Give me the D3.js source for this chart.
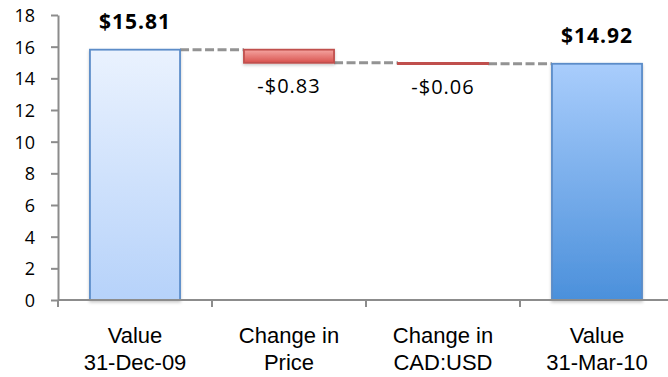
<!DOCTYPE html>
<html>
<head>
<meta charset="utf-8">
<script src="https://cdn.jsdelivr.net/npm/d3@7"></script>
<style>
  body { margin: 0; background: #fff; }
  svg { display: block; }
</style>
</head>
<body>
<div id="chart"></div>
<script>
// waterfall data
const categories = ["start", "price", "fx", "end"];
const catLines = [["Value", "31-Dec-09"], ["Change in", "Price"], ["Change in", "CAD:USD"], ["Value", "31-Mar-10"]];
const kinds = ["total", "delta", "delta", "total"];
const values = [15.81, -0.83, -0.06, 14.92];
const valueLabels = ["$15.81", "-$0.83", "-$0.06", "$14.92"];
const yTicks = [0, 2, 4, 6, 8, 10, 12, 14, 16, 18];

const width = 668;
const height = 377;

const svg = d3.select("#chart")
  .append("svg")
    .attr("width", width)
    .attr("height", height)

const defs = svg.append("defs");

function grad(id, top, bottom) {
  const g = defs.append("linearGradient")
    .attr("id", id)
    .attr("x1", 0).attr("y1", 0).attr("x2", 0).attr("y2", 1)
  g.append("stop").attr("offset", "0%").attr("stop-color", top)
  g.append("stop").attr("offset", "100%").attr("stop-color", bottom)
}
grad("gStart", "#eaf2fe", "#b6d2fa");
grad("gEnd", "#a9cdfc", "#4b90db");
grad("gRed", "#f5a5a1", "#d8524e");

defs.append("filter")
  .attr("id", "shadow")
  .attr("x", "-20%").attr("y", "-20%").attr("width", "140%").attr("height", "160%")
  .append("feDropShadow")
    .attr("dx", 0).attr("dy", 1.5)
    .attr("stdDeviation", 1.5)
    .attr("flood-color", "#000")
    .attr("flood-opacity", 0.22)

/// scales
const x = d3.scaleBand()
  .domain(categories)
  .range([58, 674])
  .paddingInner(0.415)
  .paddingOuter(0.2075)

const y = d3.scaleLinear()
  .domain([0, 18])
  .range([300, 15])

// running totals for the waterfall
let running = 0;
const bars = categories.map((c, i) => {
  let lo, hi;
  if (kinds[i] === "total") {
    lo = 0; hi = values[i]; running = values[i];
  } else {
    const next = running + values[i];
    lo = Math.min(running, next); hi = Math.max(running, next);
    running = next;
  }
  return { cat: c, i, lo, hi, level: running, kind: kinds[i], label: valueLabels[i] };
});

/// connectors
const connectors = bars.slice(0, -1).map((b, i) => ({
  x1: x(b.cat) + x.bandwidth(),
  x2: x(bars[i + 1].cat),
  level: b.level
}));

svg.selectAll("line.conn")
  .data(connectors)
  .join("line")
    .attr("class", "conn")
    .attr("x1", d => d.x1)
    .attr("x2", d => d.x2)
    .attr("y1", d => y(d.level))
    .attr("y2", d => y(d.level))
    .attr("stroke", "#939393")
    .attr("stroke-width", 3)
    .attr("stroke-dasharray", "9,3.5")

/// bars
svg.selectAll("rect.bar")
  .data(bars)
  .join("rect")
    .attr("class", "bar")
    .attr("x", d => x(d.cat))
    .attr("width", x.bandwidth())
    .attr("y", d => y(d.hi))
    .attr("height", d => Math.max(y(d.lo) - y(d.hi), 1.5))
    .attr("fill", d => d.kind === "delta" ? "url(#gRed)" : (d.i === 0 ? "url(#gStart)" : "url(#gEnd)"))
    .attr("stroke", d => d.kind === "delta" ? "#c0504d" : "#5b8cc8")
    .attr("stroke-width", 1.8)
    .attr("filter", "url(#shadow)")

/// axes
const axisColor = "#8c8c8c";

const yAxis = svg.append("g")
  .attr("transform", "translate(58,0)")
  .call(d3.axisLeft(y).tickValues(yTicks).tickSize(7).tickPadding(16).tickSizeOuter(0))
yAxis.select(".domain").attr("stroke", axisColor).attr("stroke-width", 2)
yAxis.selectAll(".tick line").attr("stroke", axisColor).attr("stroke-width", 2)
yAxis.selectAll(".tick text")
  .attr("fill", "#000")
  .style("font-family", "'Open Sans', sans-serif")
  .style("font-size", "18px")
  .attr("dy", "0.36em")

const xAxisG = svg.append("g").attr("transform", "translate(0,300)");
xAxisG.append("line")
  .attr("x1", 58).attr("x2", width)
  .attr("stroke", axisColor).attr("stroke-width", 2)
xAxisG.selectAll("line.xt")
  .data(categories.map(c => x(c) - x.step() * x.paddingInner() / 2).concat([x(categories[3]) + x.bandwidth() + x.step() * x.paddingInner() / 2]))
  .join("line")
    .attr("class", "xt")
    .attr("x1", d => d).attr("x2", d => d)
    .attr("y1", 0).attr("y2", 7)
    .attr("stroke", axisColor).attr("stroke-width", 2)

const catText = svg.selectAll("text.cat")
  .data(categories)
  .join("text")
    .attr("class", "cat")
    .attr("x", d => x(d) + x.bandwidth() / 2)
    .attr("y", 343)
    .attr("text-anchor", "middle")
    .style("font-family", "'Liberation Sans', Arial, sans-serif")
    .style("font-size", "22px")
    .attr("fill", "#000")
catText.selectAll("tspan")
  .data((d, i) => catLines[i])
  .join("tspan")
    .attr("x", function () { return d3.select(this.parentNode).attr("x"); })
    .attr("dy", (d, j) => j === 0 ? 0 : 26.5)
    .text(d => d)

/// value labels
svg.selectAll("text.val")
  .data(bars)
  .join("text")
    .attr("class", "val")
    .attr("x", d => x(d.cat) + x.bandwidth() / 2)
    .attr("y", d => d.kind === "total" ? y(d.hi) - 20.5 : y(d.lo) + 30.5)
    .attr("text-anchor", "middle")
    .style("font-family", "'Open Sans', sans-serif")
    .style("font-size", d => d.kind === "total" ? "21px" : "20px")
    .style("font-weight", d => d.kind === "total" ? "bold" : "normal")
    .style("letter-spacing", d => d.kind === "total" ? "1px" : "1px")
    .attr("fill", "#000")
    .text(d => d.label)
</script>
</body>
</html>
